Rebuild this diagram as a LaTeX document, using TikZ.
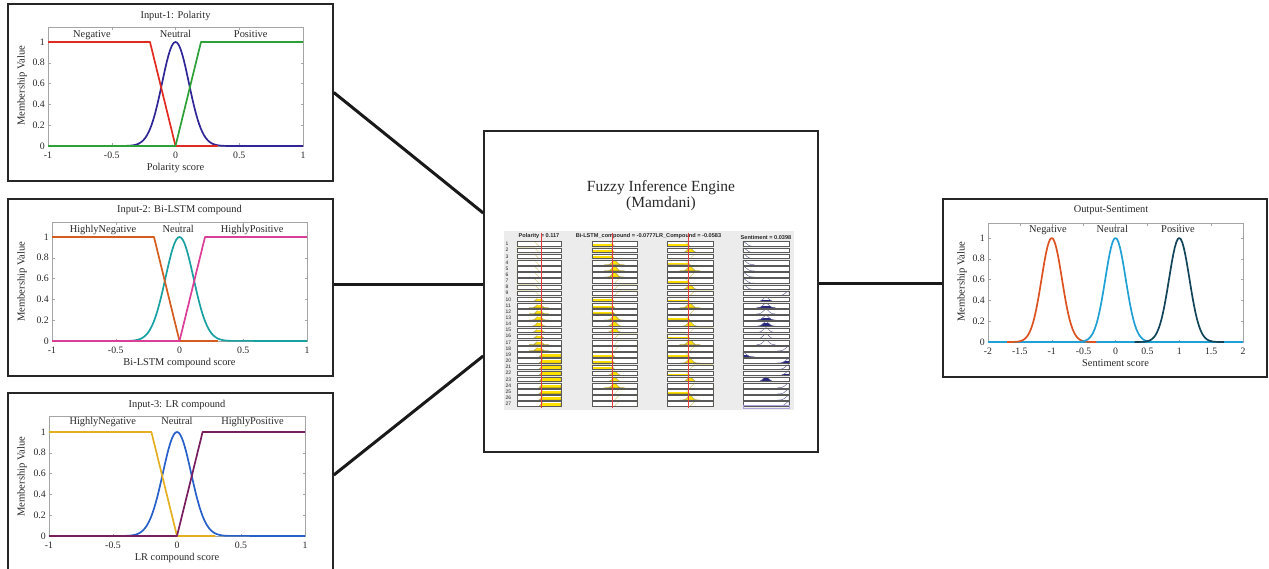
\documentclass[tikz,border=0pt]{standalone}
\usepackage{fontspec}
\setmainfont{Liberation Serif}
\newfontfamily\rvsans{Liberation Sans}

% plot colours
\definecolor{inkc}{RGB}{40,40,40}
\definecolor{axgray}{RGB}{165,165,165}
\definecolor{p1neg}{RGB}{226,43,32}
\definecolor{p1neu}{RGB}{48,38,150}
\definecolor{p1pos}{RGB}{45,160,55}
\definecolor{p2neg}{RGB}{212,92,30}
\definecolor{p2neu}{RGB}{25,160,160}
\definecolor{p2pos}{RGB}{218,62,150}
\definecolor{p3neg}{RGB}{228,175,35}
\definecolor{p3neu}{RGB}{38,96,200}
\definecolor{p3pos}{RGB}{120,30,95}
\definecolor{oneg}{RGB}{220,82,32}
\definecolor{oneu}{RGB}{32,160,212}
\definecolor{opos}{RGB}{18,68,90}
% rule viewer colours
\definecolor{rvbg}{RGB}{236,236,236}
\definecolor{rvyel}{RGB}{255,224,0}
\definecolor{rvolive}{RGB}{120,105,20}
\definecolor{rvpale}{RGB}{215,205,120}
\definecolor{rvnavy}{RGB}{40,40,125}
\definecolor{rvblue}{RGB}{95,95,150}
\definecolor{rvred}{RGB}{230,60,60}
\definecolor{rvlav}{RGB}{170,160,220}

\tikzset{
  panel/.style={draw=black!85, line width=1.6pt, inner sep=0pt},
  link/.style={draw=black!90, line width=3pt},
  axframe/.style={draw=axgray, line width=0.5pt},
  ticklab/.style={font=\fontsize{9.8}{11}\selectfont, text=inkc, inner sep=0pt},
  plotttl/.style={font=\fontsize{10.4}{12}\selectfont, text=inkc, inner sep=0pt, anchor=base},
  ylab/.style={font=\fontsize{10.6}{12}\selectfont, text=inkc, inner sep=0pt, rotate=90},
  mfcurve/.style={line width=1.7pt, line join=round},
  rvbox/.style={draw=black!65, line width=0.4pt},
  rvinmf/.style={draw=rvpale, line width=0.45pt},
  rvinfill/.style={fill=rvyel, draw=rvolive, line width=0.4pt},
  rvoutmf/.style={draw=rvblue, line width=0.45pt},
  rvoutfill/.style={fill=rvnavy, draw=rvnavy, line width=0.4pt},
  rvline/.style={draw=rvred, line width=0.6pt},
  rvhead/.style={font=\rvsans\bfseries\fontsize{5.6}{6}\selectfont, text=black!85, inner sep=0pt},
  rvnum/.style={font=\rvsans\fontsize{5}{6}\selectfont, text=black!85, inner sep=0pt},
}

% axes box, ticks and tick labels of one membership plot
\newcommand{\mfframe}[5]{% #1 name prefix, #2 xmin, #3 xmax, #4 top, #5 x ticks value/label
  \draw[axframe] (#2,0) rectangle (#3,#4);
  \foreach \t/\l [count=\n] in {#5}{
    \draw[axframe] (\t,0) -- ++(0pt,2.5pt);
    \draw[axframe] (\t,#4) -- ++(0pt,-2.5pt);
    \node[ticklab, anchor=base, yshift=-12.5pt] (#1x\n) at (\t,0) {\l};
  }
  \foreach \v [count=\n] in {0,0.2,0.4,0.6,0.8,1}{
    \draw[axframe] (#2,\v) -- ++(2.5pt,0pt);
    \draw[axframe] (#3,\v) -- ++(-2.5pt,0pt);
    \node[ticklab, anchor=east, xshift=-3pt] (#1y\n) at (#2,\v) {\v};
  }}

% membership shapes in a unit cell of the rule viewer
\newcommand{\selin}[1]{\ifcase#1\relax
    \def\cellpath{(0,0) -- (0,1) -- (0.4,1) -- (0.5,0)}%
  \or
    \def\cellpath{(0.28,0) -- plot[domain=0.28:0.72,samples=23] (\x,{exp(-((\x-0.5)*(\x-0.5))/0.0055)}) -- (0.72,0)}%
  \or
    \def\cellpath{(0.5,0) -- (0.6,1) -- (1,1) -- (1,0)}%
  \fi}
\newcommand{\selout}[1]{\ifcase#1\relax
    \def\cellpath{(0,0) -- plot[domain=0:0.25,samples=15] (\x,{exp(-((\x)*(\x))/0.0098)}) -- (0.25,0)}%
  \or
    \def\cellpath{(0.3,0) -- plot[domain=0.3:0.7,samples=23] (\x,{exp(-((\x-0.5)*(\x-0.5))/0.0072)}) -- (0.7,0)}%
  \or
    \def\cellpath{(0.75,0) -- plot[domain=0.75:1,samples=15] (\x,{exp(-((\x-1)*(\x-1))/0.0098)}) -- (1,0)}%
  \fi}

% one cell: #1 left, #2 bottom, #3 width, #4 shape selector, #5 clip level, #6 in/out
\newcommand{\rvcell}[6]{%
  \begin{scope}[shift={(#1pt,-#2pt)}, x={(#3pt,0pt)}, y={(0pt,4.6pt)}]
    \fill[white] (0,0) rectangle (1,1);
    #4%
    \ifdim#5pt>0.001pt
      \begin{scope}
        \clip (0,0) rectangle (1,#5);
        \filldraw[rv#6fill] \cellpath -- cycle;
      \end{scope}
    \fi
    \draw[rv#6mf] \cellpath;
    \draw[rvbox] (0,0) rectangle (1,1);
  \end{scope}}

\begin{document}
\begin{tikzpicture}[x=1pt,y=-1pt]
\useasboundingbox (0,0) rectangle (1269,569);

% ---------- panels ----------
\node[panel, minimum width=325pt, minimum height=177pt] (in1) at (170.5,92.5) {};
\node[panel, minimum width=325pt, minimum height=177pt] (in2) at (170.5,287.5) {};
\node[panel, minimum width=325pt, minimum height=177pt] (in3) at (170.5,481.5) {};
\node[panel, minimum width=334pt, minimum height=321pt] (engine) at (651,291.5) {};
\node[panel, minimum width=324pt, minimum height=178pt] (out) at (1105,288) {};

% ---------- connectors ----------
\draw[link] (in1.east) -- ([yshift=78.5pt]engine.west);
\draw[link] ([yshift=2.5pt]in2.east) -- ([yshift=2.5pt]in2.east -| engine.west);
\draw[link] ([yshift=6.5pt]in3.east) -- ([yshift=-64.5pt]engine.west);
\draw[link] ([yshift=4pt]out.west -| engine.east) -- ([yshift=4pt]out.west);

% ---------- Input-1 ----------
\begin{scope}[shift={(175.5pt,-146pt)}, x={(127.5pt,0pt)}, y={(0pt,104pt)}]
  \mfframe{pa}{-1}{1}{1.144}{-1/-1,-0.5/-0.5,0/0,0.5/0.5,1/1}
  \draw[mfcurve, p1neu] plot[domain=-0.4:0.4, samples=61] (\x,{exp(-((\x)*(\x))/0.02205)}) -- (1,0);
  \draw[mfcurve, p1neg] (-1,1) -- (-0.2,1) -- (0,0) -- (0.33,0);
  \draw[mfcurve, p1pos] (-1,0) -- (0,0) -- (0.2,1) -- (1,1);
  \node[plotttl, yshift=8.4pt] (pattl) at (0,1.144) {Input-1: Polarity};
  \node[plotttl, yshift=-24.5pt] (paxl) at (0,0) {Polarity score};
  \node[xshift=-26pt, ylab] (payl) at (-1,0.58) {Membership Value};
  \node[plotttl, yshift=4.3pt] (pam1) at (-0.655,1) {Negative};
  \node[plotttl, yshift=4.3pt] (pam2) at (0,1) {Neutral};
  \node[plotttl, yshift=4.3pt] (pam3) at (0.59,1) {Positive};
\end{scope}

% ---------- Input-2 ----------
\begin{scope}[shift={(179.5pt,-341pt)}, x={(127.5pt,0pt)}, y={(0pt,104pt)}]
  \mfframe{pb}{-1}{1}{1.144}{-1/-1,-0.5/-0.5,0/0,0.5/0.5,1/1}
  \draw[mfcurve, p2neu] plot[domain=-0.4:0.4, samples=61] (\x,{exp(-((\x)*(\x))/0.0242)}) -- (1,0);
  \draw[mfcurve, p2neg] (-1,1) -- (-0.2,1) -- (0,0) -- (0.3,0);
  \draw[mfcurve, p2pos] (-1,0) -- (0,0) -- (0.2,1) -- (1,1);
  \node[plotttl, yshift=9.7pt] (pbttl) at (0,1.144) {Input-2: Bi-LSTM compound};
  \node[plotttl, yshift=-24.5pt] (pbxl) at (0,0) {Bi-LSTM compound score};
  \node[xshift=-30pt, ylab] (pbyl) at (-1,0.57) {Membership Value};
  \node[plotttl, yshift=4.3pt] (pbm1) at (-0.6,1) {HighlyNegative};
  \node[plotttl, yshift=4.3pt] (pbm2) at (-0.01,1) {Neutral};
  \node[plotttl, yshift=4.3pt] (pbm3) at (0.57,1) {HighlyPositive};
\end{scope}

% ---------- Input-3 ----------
\begin{scope}[shift={(177pt,-536pt)}, x={(128pt,0pt)}, y={(0pt,104pt)}]
  \mfframe{pc}{-1}{1}{1.154}{-1/-1,-0.5/-0.5,0/0,0.5/0.5,1/1}
  \draw[mfcurve, p3neu] plot[domain=-0.4:0.4, samples=61] (\x,{exp(-((\x)*(\x))/0.0242)}) -- (1,0);
  \draw[mfcurve, p3neg] (-1,1) -- (-0.2,1) -- (0,0) -- (0.3,0);
  \draw[mfcurve, p3pos] (-1,0) -- (0,0) -- (0.2,1) -- (1,1);
  \node[plotttl, yshift=8.3pt] (pcttl) at (0,1.154) {Input-3: LR compound};
  \node[plotttl, yshift=-24pt] (pcxl) at (0,0) {LR compound score};
  \node[xshift=-27pt, ylab] (pcyl) at (-1,0.57) {Membership Value};
  \node[plotttl, yshift=7.4pt] (pcm1) at (-0.58,1) {HighlyNegative};
  \node[plotttl, yshift=7.4pt] (pcm2) at (0,1) {Neutral};
  \node[plotttl, yshift=7.4pt] (pcm3) at (0.59,1) {HighlyPositive};
\end{scope}

% ---------- Output ----------
\begin{scope}[shift={(1115.5pt,-342pt)}, x={(63.75pt,0pt)}, y={(0pt,104pt)}]
  \mfframe{pd}{-2}{2}{1.144}{-2/-2,-1.5/-1.5,-1/-1,-0.5/-0.5,0/0,0.5/0.5,1/1,1.5/1.5,2/2}
  \draw[mfcurve, oneu] (-2,0) -- (2,0);
  \draw[mfcurve, oneg] plot[domain=-1.7:-0.3, samples=61] (\x,{exp(-((\x+1)*(\x+1))/0.0512)});
  \draw[mfcurve, oneu] plot[domain=-0.7:0.7, samples=61] (\x,{exp(-((\x)*(\x))/0.0512)});
  \draw[mfcurve, opos] plot[domain=0.3:1.7, samples=61] (\x,{exp(-((\x-1)*(\x-1))/0.0512)});
  \node[plotttl, yshift=10.7pt] (pdttl) at (-0.07,1.144) {Output-Sentiment};
  \node[plotttl, yshift=-24.5pt] (pdxl) at (0,0) {Sentiment score};
  \node[xshift=-26pt, ylab] (pdyl) at (-2,0.58) {Membership Value};
  \node[plotttl, yshift=5.3pt] (pdm1) at (-1.06,1) {Negative};
  \node[plotttl, yshift=5.3pt] (pdm2) at (-0.05,1) {Neutral};
  \node[plotttl, yshift=5.3pt] (pdm3) at (0.98,1) {Positive};
\end{scope}

% ---------- inference engine ----------
\node[font=\fontsize{15.5}{16}\selectfont, text=inkc, align=center, inner sep=0pt] (fietitle) at (661,196) {Fuzzy Inference Engine\\(Mamdani)};

% rule viewer
\fill[rvbg] (504,231) rectangle (794,410);
\node[rvhead] (rvh1) at (539,236) {Polarity = 0.117};
\node[rvhead] (rvh2) at (648.5,236) {Bi-LSTM\_compound = -0.0777LR\_Compound = -0.0583};
\node[rvhead] (rvh4) at (766,237.5) {Sentiment = 0.0398};

\foreach \r in {1,...,27}{
  \pgfmathtruncatemacro\rr{\r-1}
  \pgfmathtruncatemacro\rvI{int(\rr/9)}
  \pgfmathtruncatemacro\rvJ{mod(int(\rr/3),3)}
  \pgfmathtruncatemacro\rvK{mod(\rr,3)}
  \pgfmathtruncatemacro\rvO{{0,0,0,0,0,0,0,0,2,1,1,1,1,1,1,1,1,2,0,2,2,2,1,2,2,2,2}[\rr]}
  \pgfmathsetmacro\dA{{0,0.5,0.585}[\rvI]}
  \pgfmathsetmacro\dB{{0.389,0.74,0}[\rvJ]}
  \pgfmathsetmacro\dC{{0.29,0.84,0}[\rvK]}
  \pgfmathsetmacro\dF{min(\dA,\dB,\dC)}
  \pgfmathsetmacro\yb{246.3+\rr*6.15}
  \node[rvnum, anchor=west] (rn\r) at (505.5,\yb-2.3) {\r};
  \rvcell{517}{\yb}{44}{\selin{\rvI}}{\dA}{in}
  \rvcell{592}{\yb}{45}{\selin{\rvJ}}{\dB}{in}
  \rvcell{667}{\yb}{46}{\selin{\rvK}}{\dC}{in}
  \rvcell{743}{\yb}{46}{\selout{\rvO}}{\dF}{out}
}
\draw[draw=rvlav, line width=0.6pt] (743,405.5) rectangle (789,408.5);
\draw[rvline] (541.6,233) -- (541.6,408);
\draw[rvline] (612.5,233) -- (612.5,408);
\draw[rvline] (688.7,233) -- (688.7,408);

\end{tikzpicture}
\end{document}
